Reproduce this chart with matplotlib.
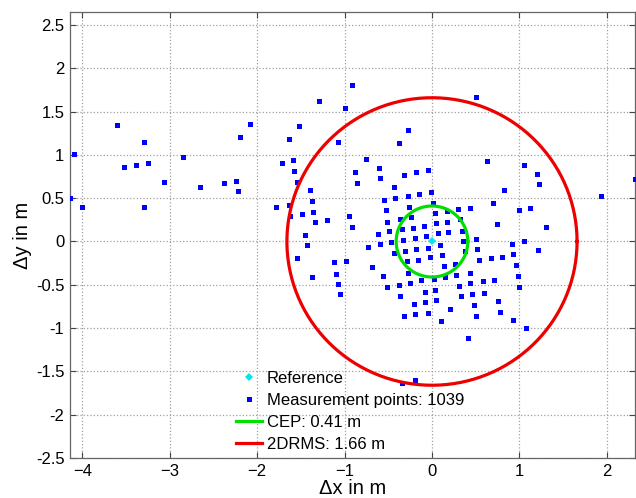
import numpy as np
import matplotlib
matplotlib.use('Agg')
import matplotlib.pyplot as plt

dx = [-4.10, -4.14, -4.00, -3.60, -3.52, -3.39, -3.29, -3.25, -3.30, -3.07,
      -2.85, -2.65, -2.38, -2.24, -2.22, -2.20, -2.08, -1.78, -1.72, -1.64,
      -1.52, -1.59, -1.58, -1.55, -1.64, -1.62, -1.49, -1.40, -1.37, -1.36,
      -1.34, -1.20, -1.45, -1.43, -1.54, -1.29, -1.00, -1.07, -0.95, -0.91,
      -1.12, -1.10, -1.08, -1.05, -0.98, -1.37, -0.91,
      -0.27, -0.38, -0.76, -0.61, -0.88, -0.86, -0.59, -0.32, -0.18, -0.05,
      -0.43, -0.01, -0.15, -0.28, -0.42, -0.55, 0.01, -0.53, -0.26, -0.37,
      -0.24, -0.51, -0.49, -0.62, -0.60, -0.73, -0.69, -0.34, -0.22, -0.09,
      0.05, 0.17, -0.33, -0.20, -0.07, 0.07, 0.18, -0.31, -0.18, -0.04,
      0.09, 0.11, -0.02, -0.16, -0.29, -0.44, 0.14, -0.47, 0.03, 0.17,
      0.30, 0.43, 0.32, 0.34, 0.36, 0.38, 0.50, 0.51, 0.26, 0.54,
      0.68, 0.80, 0.92, 0.93, 1.05, 0.99, 0.74, 0.96, 0.98, 1.00,
      0.63, 1.05, 0.82, 0.70, 0.50, 1.20, 1.22, 1.12, 1.30, 1.93,
      2.32, 1.21, 1.08, 0.41,
      -0.56, -0.27, 0.02, 0.15, 0.28, 0.43, -0.12, -0.25, -0.38, -0.51,
      -0.37, -0.08, 0.04, 0.05, 0.31, 0.33, 0.44, 0.46, 0.58, 0.60,
      0.71, 0.75, 0.48, 0.50, 0.78, 0.93, 0.21, -0.21, -0.08, -0.19,
      -0.05, -0.32, 0.10, -0.34, -0.20]
dy = [1.01, 0.50, 0.40, 1.35, 0.86, 0.88, 1.15, 0.91, 0.40, 0.69,
      0.97, 0.63, 0.68, 0.70, 0.58, 1.21, 1.36, 0.40, 0.91, 1.18,
      1.33, 0.94, 0.81, 0.69, 0.42, 0.30, 0.32, 0.59, 0.47, 0.34,
      0.23, 0.25, 0.08, -0.04, -0.19, 1.62, 1.54, 1.15, 0.29, 0.17,
      -0.24, -0.37, -0.49, -0.61, -0.22, -0.41, 1.81,
      1.29, 1.14, 0.95, 0.85, 0.80, 0.68, 0.73, 0.77, 0.80, 0.82,
      0.63, 0.57, 0.55, 0.53, 0.50, 0.48, 0.45, 0.36, 0.40, 0.26,
      0.28, 0.23, 0.12, 0.09, -0.03, -0.06, -0.30, 0.14, 0.16, 0.18,
      0.21, 0.23, 0.02, 0.04, 0.06, 0.10, 0.11, -0.11, -0.09, -0.07,
      -0.04, -0.16, -0.18, -0.21, -0.23, -0.13, -0.28, -0.01, 0.33, 0.35,
      0.38, 0.39, 0.26, 0.12, 0.01, -0.11, 0.03, -0.09, -0.26, -0.21,
      -0.19, -0.18, -0.03, -0.15, 0.00, 0.36, 0.20, -0.27, -0.40, -0.52,
      0.93, 0.88, 0.59, 0.44, 1.67, 0.78, 0.66, 0.39, 0.17, 0.53,
      0.72, -0.10, -1.00, -1.12,
      -0.40, -0.36, -0.43, -0.41, -0.39, -0.36, -0.45, -0.48, -0.50, -0.52,
      -0.63, -0.58, -0.56, -0.68, -0.51, -0.63, -0.48, -0.61, -0.46, -0.59,
      -0.44, -0.69, -0.73, -0.86, -0.81, -0.91, -0.78, -0.72, -0.70, -0.84,
      -0.82, -0.86, -0.92, -1.63, -1.60]

n_points = 1039
cep = 0.41      # m
drms2 = 1.66    # m
ref = (0.0, 0.0)

xticks = [-4, -3, -2, -1, 0, 1, 2]
yticks = [-2.5, -2, -1.5, -1, -0.5, 0, 0.5, 1, 1.5, 2, 2.5]
ytick_labels = ['-2.5', '-2', '-1.5', '-1', '-0.5', '0', '0.5', '1', '1.5', '2', '2.5']

plt.rcParams['font.family'] = ['Liberation Sans', 'DejaVu Sans']

fig = plt.figure(figsize=(6.36, 4.98), dpi=100)
ax = fig.add_axes([70 / 636, 40 / 498, 565 / 636, 446 / 498])

ax.plot(dx, dy, 's', color='#0000ff', markersize=3.6, markeredgewidth=0,
        label=f'Measurement points: {n_points}', zorder=3)

t = np.linspace(0, 2 * np.pi, 400)
ax.plot(ref[0] + cep * np.cos(t), ref[1] + cep * np.sin(t), color='#00e000',
        lw=2.3, label=f'CEP: {cep:.2f} m', zorder=4)
ax.plot(ref[0] + drms2 * np.cos(t), ref[1] + drms2 * np.sin(t), color='#ee0000',
        lw=2.3, label=f'2DRMS: {drms2:.2f} m', zorder=4)
ax.plot([ref[0]], [ref[1]], 'D', color='#00e5ee', markersize=3.8,
        markeredgewidth=0, label='Reference', zorder=5)

ax.set_xlim(-4.142, 2.323)
ax.set_ylim(-2.5, 2.65)
ax.set_xticks(xticks)
ax.set_yticks(yticks)
ax.set_yticklabels(ytick_labels)
ax.tick_params(direction='in', length=4, width=0.8, color='#444444',
               labelsize=12, top=True, right=True, pad=4)
for s in ax.spines.values():
    s.set_color('#666666')
    s.set_linewidth(0.9)
ax.grid(True, linestyle=':', color='#a0a0a0', linewidth=0.9)
ax.set_axisbelow(True)

ax.set_xlabel('\u0394x in m', fontsize=14.5, labelpad=0)
ax.set_ylabel('\u0394y in m', fontsize=14.5, labelpad=3)

h, l = ax.get_legend_handles_labels()
order = [3, 0, 1, 2]
ax.legend([h[i] for i in order], [l[i] for i in order], frameon=False,
          fontsize=12, loc='upper left', bbox_to_anchor=(236 / 636, 1 - 371 / 498),
          bbox_transform=fig.transFigure, borderpad=0, borderaxespad=0,
          handlelength=1.55, handletextpad=0.3, labelspacing=0.42)

fig.savefig('out.png', dpi=100)
